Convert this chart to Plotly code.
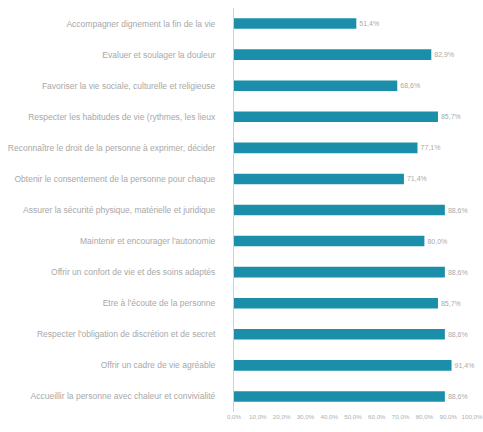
import plotly.graph_objects as go

categories = [
    "Accompagner dignement la fin de la vie",
    "Evaluer et soulager la douleur",
    "Favoriser la vie sociale, culturelle et religieuse",
    "Respecter les habitudes de vie (rythmes, les lieux",
    "Reconnaître le droit de la personne à exprimer, décider",
    "Obtenir le consentement de la personne pour chaque",
    "Assurer la sécurité physique, matérielle et juridique",
    "Maintenir et encourager l'autonomie",
    "Offrir un confort de vie et des soins adaptés",
    "Etre à l'écoute de la personne",
    "Respecter l'obligation de discrétion et de secret",
    "Offrir un cadre de vie agréable",
    "Accueillir la personne avec chaleur et convivialité",
]
values = [51.4, 82.9, 68.6, 85.7, 77.1, 71.4, 88.6, 80.0, 88.6, 85.7, 88.6, 91.4, 88.6]
tick_values = [0, 10, 20, 30, 40, 50, 60, 70, 80, 90, 100]

fig = go.Figure(
    go.Bar(
        x=values,
        y=categories,
        orientation="h",
        marker=dict(color="#1b8fa9", line=dict(width=0)),
        width=0.34,
        text=values,
        texttemplate="%{x:.1f}%",
        textposition="outside",
        cliponaxis=False,
        textfont=dict(size=7, color="#aaaaaa", family="Liberation Sans Narrow, Liberation Sans, sans-serif"),
    )
)

fig.update_layout(
    width=483,
    height=432,
    margin=dict(l=234, r=11, t=8, b=20, autoexpand=False),
    paper_bgcolor="white",
    plot_bgcolor="white",
    separators=", ",
    showlegend=False,
    font=dict(family="Liberation Sans Narrow, Liberation Sans, sans-serif", color="#a8a8a8"),
)
fig.update_xaxes(
    range=[0, 100],
    tickvals=tick_values,
    ticktext=[f"{v:.1f}%".replace(".", ",") for v in tick_values],
    showgrid=False,
    zeroline=False,
    showline=False,
    automargin=False,
    ticklabeloverflow="allow",
    tickfont=dict(size=6.2, color="#b0b0b0"),
)
fig.update_yaxes(
    autorange="reversed",
    showgrid=False,
    showline=True,
    linecolor="#d0d0d0",
    linewidth=1,
    ticks="",
    automargin=False,
    ticklabelstandoff=16,
    tickfont=dict(size=8.5, color="#a8a8a8"),
)

fig.write_html(
    "out.html",
    config={"displayModeBar": False},
    post_script="document.body.style.margin='0';document.body.style.overflow='hidden';",
)
